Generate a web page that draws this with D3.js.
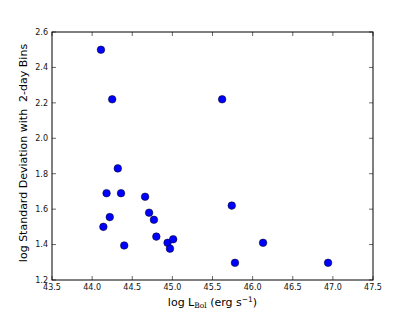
<!DOCTYPE html>
<html lang="en">
<head>
    <meta charset="UTF-8">
    <title>log Standard Deviation vs log L_Bol</title>
    <style>
        body { margin: 0; background: #fff; }
        svg { display: block; font-family: "DejaVu Sans", sans-serif; }
        .tick-label { font-size: 8px; fill: #111; }
        .axis-label { font-size: 11px; fill: #000; }
    </style>
</head>
<body>
    <svg id="chart" width="415" height="312"></svg>

    <script src="https://d3js.org/d3.v7.min.js"></script>
    <script>
        // data
        const logLbol = [44.11, 44.25, 45.62, 44.32, 44.18, 44.36, 44.66, 45.74, 44.71, 44.22,
                         44.77, 44.14, 44.80, 44.40, 44.94, 45.01, 44.97, 46.13, 45.78, 46.94];
        const logStd = [2.50, 2.22, 2.22, 1.83, 1.69, 1.69, 1.67, 1.62, 1.58, 1.555,
                        1.54, 1.50, 1.445, 1.395, 1.41, 1.43, 1.377, 1.41, 1.297, 1.297];
        const xTicks = [43.5, 44.0, 44.5, 45.0, 45.5, 46.0, 46.5, 47.0, 47.5];
        const yTicks = [1.2, 1.4, 1.6, 1.8, 2.0, 2.2, 2.4, 2.6];

        const svg = d3.select('#chart');
        const plotL = 52, plotR = 373, plotT = 32, plotB = 280;

        const x = d3.scaleLinear().domain([43.5, 47.5]).range([plotL, plotR]);
        const y = d3.scaleLinear().domain([1.2, 2.6]).range([plotB, plotT]);

        // frame
        svg.append('rect')
            .attr('x', plotL).attr('y', plotT)
            .attr('width', plotR - plotL).attr('height', plotB - plotT)
            .attr('fill', 'none').attr('stroke', '#000').attr('stroke-width', 1);

        // ticks, pointing inward on all four sides
        const tl = 4;
        xTicks.forEach(function(t) {
            svg.append('line').attr('x1', x(t)).attr('x2', x(t))
                .attr('y1', plotB).attr('y2', plotB - tl).attr('stroke', '#000').attr('stroke-width', 0.6);
            svg.append('line').attr('x1', x(t)).attr('x2', x(t))
                .attr('y1', plotT).attr('y2', plotT + tl).attr('stroke', '#000').attr('stroke-width', 0.6);
            svg.append('text').attr('class', 'tick-label')
                .attr('x', x(t)).attr('y', 290)
                .attr('text-anchor', 'middle')
                .text(t.toFixed(1));
        });
        yTicks.forEach(function(t) {
            svg.append('line').attr('x1', plotL).attr('x2', plotL + tl)
                .attr('y1', y(t)).attr('y2', y(t)).attr('stroke', '#000').attr('stroke-width', 0.6);
            svg.append('line').attr('x1', plotR).attr('x2', plotR - tl)
                .attr('y1', y(t)).attr('y2', y(t)).attr('stroke', '#000').attr('stroke-width', 0.6);
            svg.append('text').attr('class', 'tick-label')
                .attr('x', 48).attr('y', y(t))
                .attr('dy', '0.35em')
                .attr('text-anchor', 'end')
                .text(t.toFixed(1));
        });

        // points
        svg.selectAll('.pt')
            .data(logLbol.map(function(v, i) { return [v, logStd[i]]; }))
            .enter().append('circle')
            .attr('class', 'pt')
            .attr('cx', function(d) { return x(d[0]); })
            .attr('cy', function(d) { return y(d[1]); })
            .attr('r', 3.8)
            .attr('fill', '#0000ff')
            .attr('stroke', '#000')
            .attr('stroke-width', 0.5);

        // x label with serif subscript and superscript
        const xl = svg.append('text').attr('class', 'axis-label')
            .attr('x', (plotL + plotR) / 2).attr('y', 306)
            .attr('text-anchor', 'middle');
        xl.append('tspan').text('log L');
        xl.append('tspan').attr('font-family', '"DejaVu Serif", serif').attr('font-size', '7.5px')
            .attr('dy', 2).text('Bol');
        xl.append('tspan').attr('dy', -2).text(' (erg s');
        xl.append('tspan').attr('font-size', '7.5px').attr('dy', -4).text('\u22121');
        xl.append('tspan').attr('dy', 4).text(')');

        // y label
        svg.append('text').attr('class', 'axis-label')
            .attr('transform', 'translate(27,' + ((plotT + plotB) / 2 - 3) + ') rotate(-90)')
            .attr('text-anchor', 'middle')
            .attr('xml:space', 'preserve')
            .style('white-space', 'pre')
            .text('log Standard Deviation with  2-day Bins');
    </script>
</body>
</html>
